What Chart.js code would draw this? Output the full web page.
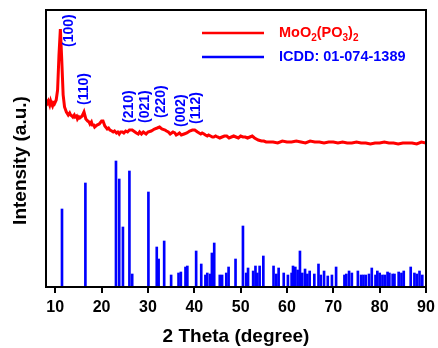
<!DOCTYPE html>
<html>
<head>
<meta charset="utf-8">
<script src="https://cdn.jsdelivr.net/npm/chart.js@4.4.0/dist/chart.umd.min.js"></script>
<style>
  html, body { margin: 0; padding: 0; background: #fff; }
  #wrap { width: 438px; height: 348px; }
</style>
</head>
<body>
<div id="wrap"><canvas id="xrd" width="438" height="348"></canvas></div>
<script>
// measured pattern (2 theta, intensity in arbitrary units)
const curveTheta = [8.0, 8.3, 8.5, 8.8, 9.0, 9.2, 9.4, 9.6, 9.8, 10.0, 10.2, 10.5, 10.8, 11.1, 11.4, 11.7, 12.0, 12.4, 12.8, 13.1, 13.3, 13.6, 13.8,
  14.1, 14.3, 14.6, 14.8, 15.1, 15.3, 15.8, 16.2, 16.6, 17.0, 17.3, 17.5, 17.8, 18.0, 18.3, 18.5, 19.0, 19.5, 20.0, 20.3, 20.7, 21.2, 21.5, 21.8,
  22.2, 22.5, 22.8, 23.2, 23.5, 23.8, 24.1, 24.5, 24.8, 25.2, 25.6, 26.0, 26.6, 27.2, 27.5, 27.9, 28.2, 28.6, 29.0, 29.3, 29.6, 30.0, 30.7, 31.4, 32.0, 32.5, 33.0,
  33.7, 34.0, 34.4, 34.8, 35.1, 35.4, 35.8, 36.1, 36.5, 36.8, 37.2, 37.8, 38.4, 39.0, 39.6, 40.1, 40.7, 41.4, 41.7, 42.1, 42.4, 42.8, 43.1, 43.5, 43.9, 44.2,
  44.6, 45.0, 45.5, 46.0, 46.5, 47.0, 47.5, 48.0, 48.5, 49.0, 49.5, 50.0, 50.5, 51.0, 51.5, 52.0, 52.5, 53.0, 53.8, 54.5, 55.0, 55.5, 56, 57, 58, 59, 60, 61, 62, 63, 64, 65, 66, 67, 68, 69,
  70, 71, 72, 73, 74, 75, 76, 77, 78, 79, 80, 81, 82, 83, 84, 85, 86, 87, 88, 89, 90]
const curveIntensity = [187, 184, 186, 182, 186, 183, 181, 184, 183, 185, 187, 197, 232, 258, 227, 192, 180, 175, 172, 174, 172, 171, 170,
  172, 170, 171, 168, 170, 169, 171, 175, 168, 166, 165, 163, 165, 162, 162, 160, 162, 163, 166, 166, 161, 158, 159, 157,
  156, 155, 156, 154, 155, 153, 155, 155, 154, 156, 155, 157, 157, 155, 154, 153, 155, 153, 155, 154, 153, 155, 156, 158, 159, 160, 158,
  157, 156, 155, 153, 154, 155, 154, 152, 153, 154, 152, 153, 154, 156, 157, 157, 155, 153, 154, 153, 152, 151, 152, 151, 150, 150,
  151, 150, 149, 150, 151, 151, 149, 150, 151, 150, 149, 151, 150, 150, 149, 150, 151, 149, 147, 146, 146, 145, 145, 145, 144, 146, 145, 145, 146, 145, 144, 146, 145, 145, 144, 145,
  145, 144, 145, 144, 144, 145, 144, 144, 143, 144, 144, 145, 144, 144, 143, 144, 144, 144, 143, 145, 144]

// reference card ICDD 01-074-1389 (2 theta, relative intensity)
const stickTheta = [11.45, 16.5, 23.1, 23.8, 24.6, 26.0, 26.6, 30.1, 31.9, 32.3, 33.5, 35.0, 36.6, 37.1,
  38.1, 38.5, 40.4, 41.5, 42.4, 42.8, 43.4, 43.8, 44.3, 45.5, 46.0, 46.9, 47.4, 48.9, 50.5, 51.2, 51.6,
  52.7, 53.2, 53.6, 54.1, 54.9, 57.1, 57.7, 58.2, 59.3, 60.2, 61.0, 61.3, 61.8, 62.3, 62.8, 63.3, 63.9,
  64.4, 64.9, 65.9, 66.8, 67.3, 68.0, 68.8, 69.7, 70.6, 72.4, 72.8, 73.4, 74.0, 75.3, 76.0, 76.5, 77.0,
  77.7, 78.3, 79.1, 79.5, 80.0, 80.6, 81.1, 81.7, 82.1, 82.8, 83.2, 84.1, 84.7, 85.2, 86.7, 87.5, 88.0,
  88.6, 89.2]
const stickHeight = [78, 104, 126, 108, 60, 116, 13, 95, 40, 28, 46, 12, 14, 15,
  20, 21, 36, 23, 12, 14, 13, 34, 44, 12, 12, 14, 20, 28, 61, 14, 19,
  16, 21, 14, 21, 31, 21, 13, 19, 14, 12, 14, 21, 20, 17, 36, 14, 18,
  13, 16, 13, 23, 12, 16, 11, 12, 20, 12, 13, 16, 14, 16, 12, 12, 12,
  13, 19, 12, 16, 14, 12, 12, 15, 14, 13, 13, 15, 14, 16, 20, 14, 13,
  16, 12]

// hkl annotations: text, 2 theta of the text, intensity at text start
const hklText = ['(100)', '(110)', '(210)', '(021)', '(220)', '(002)', '(112)']
const hklTheta = [13.0, 16.3, 26.0, 29.5, 32.9, 37.2, 40.5]
const hklBase = [240, 182, 164, 164, 169, 160, 163]

const xTicks = [10, 20, 30, 40, 50, 60, 70, 80, 90]
const seriesNames = [[['MoO', 0], ['2', 1], ['(PO', 0], ['3', 1], [')', 0], ['2', 1]], [['ICDD: 01-074-1389', 0]]]
const seriesColors = ['#ff0000', '#0000ff']
const yTitle = 'Intensity (a.u.)'

const FONT = '"Liberation Sans", Arial, sans-serif'

const frameAndNotes = {
  id: 'frameAndNotes',
  afterDatasetsDraw(chart) {
    const ctx = chart.ctx
    const a = chart.chartArea
    const xs = chart.scales.x, ys = chart.scales.y

    // peak labels
    ctx.save()
    ctx.fillStyle = '#0000ff'
    ctx.font = 'bold 14px ' + FONT
    ctx.textAlign = 'left'
    ctx.textBaseline = 'middle'
    hklText.forEach((t, i) => {
      ctx.save()
      ctx.translate(xs.getPixelForValue(hklTheta[i]), ys.getPixelForValue(hklBase[i]))
      ctx.rotate(-Math.PI / 2)
      ctx.fillText(t, 0, 0)
      ctx.restore()
    })
    ctx.restore()

    // y title, sits a bit below the middle in the original
    ctx.save()
    ctx.fillStyle = '#000'
    ctx.font = 'bold 19px ' + FONT
    ctx.textAlign = 'center'
    ctx.textBaseline = 'middle'
    ctx.translate(21, (a.top + a.bottom) / 2 + 12)
    ctx.rotate(-Math.PI / 2)
    ctx.fillText(yTitle, 0, 0)
    ctx.restore()

    // legend
    ctx.save()
    seriesNames.forEach((parts, i) => {
      const y = a.top + 23 + i * 24
      ctx.strokeStyle = seriesColors[i]
      ctx.lineWidth = 2.5
      ctx.beginPath()
      ctx.moveTo(a.left + 156, y)
      ctx.lineTo(a.left + 218, y)
      ctx.stroke()
      ctx.fillStyle = seriesColors[i]
      ctx.textBaseline = 'middle'
      let x = a.left + 233
      parts.forEach(p => {
        ctx.font = p[1] ? 'bold 10px ' + FONT : 'bold 14.5px ' + FONT
        ctx.fillText(p[0], x, p[1] ? y + 5 : y)
        x += ctx.measureText(p[0]).width
      })
    })
    ctx.restore()

    // frame
    ctx.save()
    ctx.strokeStyle = '#000'
    ctx.lineWidth = 2
    ctx.strokeRect(a.left, a.top, a.right - a.left, a.bottom - a.top)
    ctx.restore()
  }
}

new Chart(document.getElementById('xrd'), {
  type: 'bar',
  data: {
    datasets: [
      {
        type: 'line',
        data: curveTheta.map((t, i) => ({ x: t, y: curveIntensity[i] })),
        borderColor: '#ff0000',
        borderWidth: 3,
        pointRadius: 0,
        tension: 0
      },
      {
        type: 'bar',
        data: stickTheta.map((t, i) => ({ x: t, y: stickHeight[i] })),
        backgroundColor: '#0000ff',
        borderWidth: 0,
        barThickness: 2
      }
    ]
  },
  options: {
    responsive: false,
    animation: false,
    events: [],
    layout: { padding: { top: 10, right: 12, left: 46, bottom: 0 } },
    plugins: { legend: { display: false }, tooltip: { enabled: false } },
    scales: {
      x: {
        type: 'linear',
        min: 8,
        max: 90,
        offset: false,
        afterBuildTicks: s => { s.ticks = xTicks.map(v => ({ value: v })) },
        // fixed box so the plot area lands where the original has it
        afterFit: s => { s.height = 61; s.paddingLeft = 0; s.paddingRight = 0 },
        grid: { display: true, drawOnChartArea: false, drawTicks: true, tickLength: 6, color: '#000', lineWidth: 2, offset: false },
        border: { display: false },
        ticks: { color: '#000', font: { family: FONT, size: 16, weight: 'bold' }, padding: 5, maxRotation: 0 },
        title: { display: true, text: '2 Theta (degree)', color: '#000', font: { family: FONT, size: 19, weight: 'bold' }, padding: { top: 4, bottom: 0 } }
      },
      y: {
        display: false,
        min: 0,
        max: 277
      }
    }
  },
  plugins: [frameAndNotes]
})
</script>
</body>
</html>
